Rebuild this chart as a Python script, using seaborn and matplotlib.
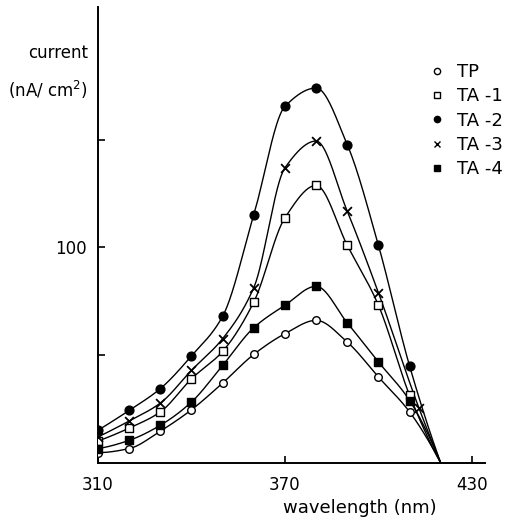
import numpy as np
import pandas as pd
import matplotlib
matplotlib.use("Agg")
import matplotlib.pyplot as plt
import seaborn as sns
from matplotlib.lines import Line2D

# Photocurrent action spectra (wavelength in nm, current in nA/cm^2)
wavelength = [310, 320, 330, 340, 350, 360, 370, 380, 390, 400, 410]
wavelength_ta3 = [310, 320, 330, 340, 350, 360, 370, 380, 390, 400, 413]
cutoff = 420  # all spectra fall to zero here

tp = [4.8, 6.7, 14.8, 24.7, 37.1, 50.4, 60.0, 66.2, 56.1, 39.9, 23.7]
ta1 = [10.2, 16.2, 23.7, 39.1, 51.8, 74.7, 113.8, 128.8, 101.0, 73.2, 31.4]
ta2 = [15.2, 24.4, 34.5, 49.7, 68.1, 115.2, 165.5, 174.0, 147.7, 101.0, 45.0]
ta3 = [12.1, 19.5, 27.8, 43.0, 57.7, 81.4, 137.0, 149.4, 116.8, 79.0, 25.5]
ta4 = [6.7, 10.5, 17.5, 28.3, 45.3, 62.8, 73.2, 82.0, 65.0, 46.9, 29.0]

series_names = ["TP", "TA -1", "TA -2", "TA -3", "TA -4"]
series_values = [tp, ta1, ta2, ta3, ta4]
series_wl = [wavelength, wavelength, wavelength, wavelength_ta3, wavelength]

marker_style = {
    "TP": dict(marker="o", face="white", s=30, lw=1.0),
    "TA -1": dict(marker="s", face="white", s=34, lw=1.0),
    "TA -2": dict(marker="o", face="black", s=40, lw=1.0),
    "TA -3": dict(marker="x", face="black", s=40, lw=1.3),
    "TA -4": dict(marker="s", face="black", s=38, lw=1.0),
}


def pchip_curve(x, y, n=400):
    """Shape-preserving cubic through the points, sampled finely."""
    x = np.asarray(x, float)
    y = np.asarray(y, float)
    h = np.diff(x)
    d = np.diff(y) / h
    m = np.zeros_like(y)
    for k in range(1, len(x) - 1):
        if d[k - 1] * d[k] > 0:
            w1 = 2 * h[k] + h[k - 1]
            w2 = h[k] + 2 * h[k - 1]
            m[k] = (w1 + w2) / (w1 / d[k - 1] + w2 / d[k])
    m[0] = ((2 * h[0] + h[1]) * d[0] - h[0] * d[1]) / (h[0] + h[1])
    if np.sign(m[0]) != np.sign(d[0]):
        m[0] = 0
    m[-1] = ((2 * h[-1] + h[-2]) * d[-1] - h[-1] * d[-2]) / (h[-1] + h[-2])
    if np.sign(m[-1]) != np.sign(d[-1]):
        m[-1] = 0
    xs = np.linspace(x[0], x[-1], n)
    idx = np.clip(np.searchsorted(x, xs) - 1, 0, len(x) - 2)
    t = (xs - x[idx]) / h[idx]
    h00 = 2 * t ** 3 - 3 * t ** 2 + 1
    h10 = t ** 3 - 2 * t ** 2 + t
    h01 = -2 * t ** 3 + 3 * t ** 2
    h11 = t ** 3 - t ** 2
    ys = h00 * y[idx] + h10 * h[idx] * m[idx] + h01 * y[idx + 1] + h11 * h[idx] * m[idx + 1]
    return xs, ys


points = pd.concat(
    [pd.DataFrame({"wavelength": wl, "current": v, "sample": name})
     for name, wl, v in zip(series_names, series_wl, series_values)],
    ignore_index=True,
)

curves = []
for name, wl, v in zip(series_names, series_wl, series_values):
    cx, cy = pchip_curve(list(wl) + [cutoff], list(v) + [0.0])
    curves.append(pd.DataFrame({"wavelength": cx, "current": cy, "sample": name}))
curves = pd.concat(curves, ignore_index=True)

sns.set_style("ticks")
plt.rcParams["font.family"] = ["DejaVu Sans"]
plt.rcParams["text.color"] = "black"
plt.rcParams["xtick.color"] = "black"
plt.rcParams["ytick.color"] = "black"
plt.rcParams["axes.edgecolor"] = "black"

fig = plt.figure(figsize=(5.22, 5.20), dpi=100)
ax = fig.add_axes([98 / 522, 57 / 520, 387 / 522, 456 / 520])

for name in series_names:
    sub = curves[curves["sample"] == name]
    sns.lineplot(data=sub, x="wavelength", y="current", sort=False, estimator=None,
                 color="black", linewidth=1.0, ax=ax, legend=False)

for name in series_names:
    sub = points[points["sample"] == name]
    st = marker_style[name]
    sns.scatterplot(data=sub, x="wavelength", y="current", marker=st["marker"],
                    s=st["s"], color=st["face"], edgecolor="black",
                    linewidth=st["lw"], ax=ax, legend=False, zorder=3)

ax.set_xlim(310, 434.2)
ax.set_ylim(0, 211.6)
sns.despine(ax=ax)
ax.spines["left"].set_linewidth(1.4)
ax.spines["bottom"].set_linewidth(1.4)

ax.set_xticks([310, 370, 430])
ax.set_xticklabels(["310", "370", "430"], fontsize=12)
ax.set_yticks([50, 100, 150])
ax.set_yticklabels(["", "100", ""], fontsize=12)
ax.tick_params(axis="both", direction="in", length=5, width=1.2, color="black",
               labelcolor="black")
ax.tick_params(axis="x", pad=9)
ax.tick_params(axis="y", pad=8)
ax.set_xlabel("")
ax.set_ylabel("")

fig.text(360 / 522, 1 - 508 / 520, "wavelength (nm)", fontsize=13, ha="center", va="center")
fig.text(88 / 522, 1 - 53 / 520, "current", fontsize=12, ha="right", va="center")
fig.text(88 / 522, 1 - 90 / 520, "(nA/ cm$^2$)", fontsize=12, ha="right", va="center")

handles = []
for name in series_names:
    st = marker_style[name]
    handles.append(Line2D([], [], linestyle="none", marker=st["marker"],
                          markerfacecolor=st["face"], markeredgecolor="black",
                          markersize=4.5, markeredgewidth=1.0))
fig.legend(handles, series_names, loc="upper left", bbox_to_anchor=(421 / 522, 1 - 54 / 520),
           frameon=False, fontsize=13, handlelength=0.8, handletextpad=0.7,
           labelspacing=0.35, borderpad=0)

fig.savefig("out.png", dpi=100)
